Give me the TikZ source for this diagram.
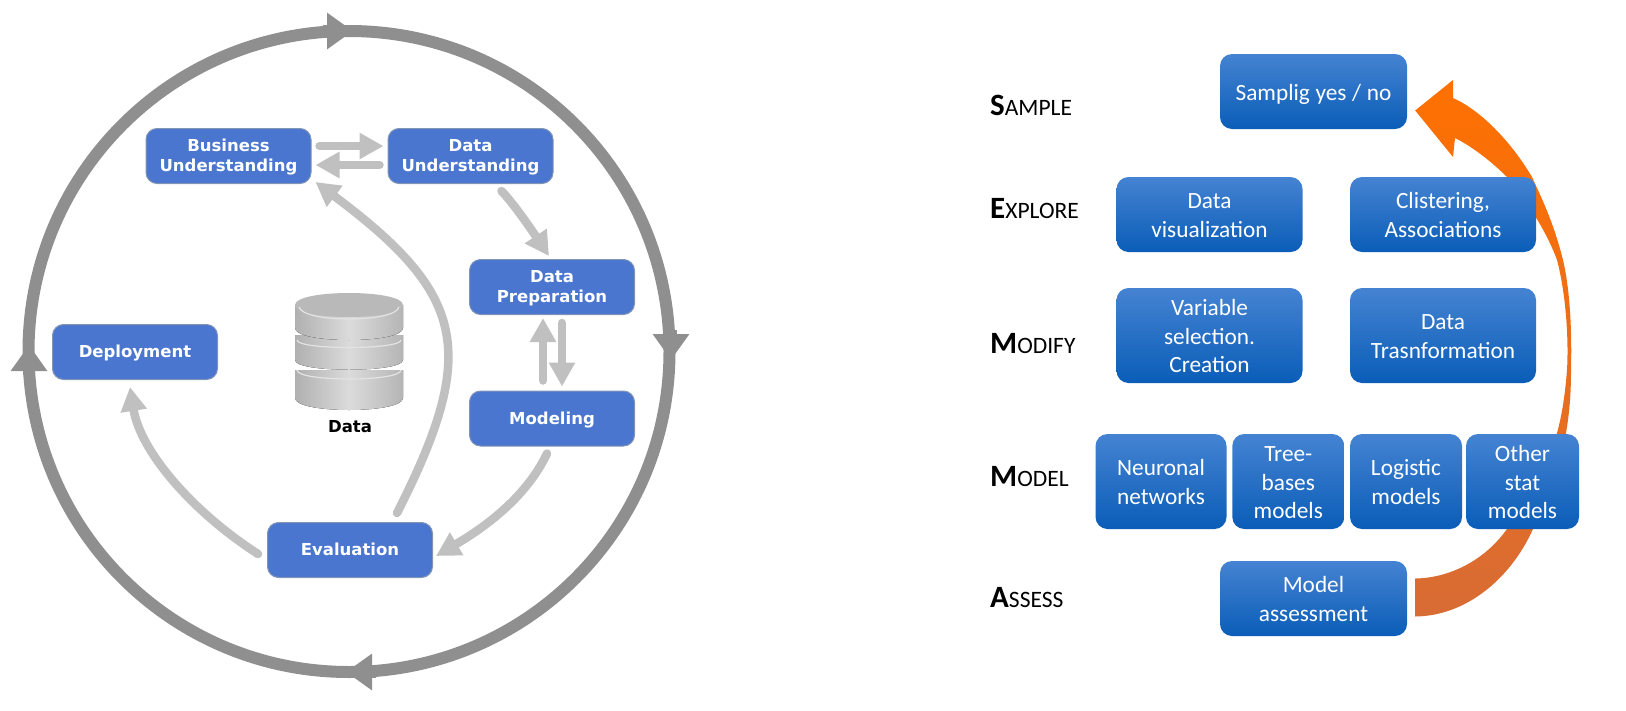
\documentclass[tikz,border=0pt]{standalone}
\usepackage{fontspec}
\usepackage{tikz}
\usetikzlibrary{arrows.meta, backgrounds}
\newfontfamily\crispfont{DejaVu Sans}
\newfontfamily\semmafont{Carlito}
\definecolor{crispblue}{HTML}{4A76CF}
\definecolor{crispedge}{HTML}{8295B5}
\definecolor{ringgray}{HTML}{8F8F8F}
\definecolor{flowgray}{HTML}{C0C0C0}
\definecolor{semmatop}{HTML}{4583D2}
\definecolor{semmabot}{HTML}{0A5DB8}
\definecolor{arrowtop}{HTML}{FF7000}
\definecolor{arrowbot}{HTML}{D86C35}
\newcommand{\phaselabel}[2]{{\fontsize{31}{31}\selectfont\bfseries #1}{\fontsize{23.5}{24}\selectfont #2}}

\begin{document}
\begin{tikzpicture}[x=1pt, y=-1pt,
    crispbox/.style={draw=crispedge, line width=1pt, fill=crispblue, rounded corners=11pt, minimum width=165pt, minimum height=55pt, text width=155pt, inner sep=0pt, align=center, text=white, font=\crispfont\bfseries\fontsize{16.5}{20}\selectfont, execute at begin node={\rule{0pt}{16pt}}, execute at end node={\rule[-5pt]{0pt}{5pt}}},
    semmabox/.style={top color=semmatop, bottom color=semmabot, rounded corners=12pt, text width=100pt, inner sep=0pt, align=center, text=white, font=\semmafont\fontsize{23.3}{28.5}\selectfont, execute at begin node={\rule{0pt}{24pt}}, execute at end node={\rule[-7pt]{0pt}{7pt}}},
    semmawide/.style={semmabox, text width=170pt},
    phase/.style={anchor=base west, inner sep=0pt, font=\semmafont},
    ringbase/.style={draw=ringgray, line width=12pt},
    ringline/.style={ringbase, -{Triangle[length=26pt,width=35pt]}},
    flowline/.style={draw=flowgray, line width=8.5pt, line cap=round, -{Triangle[length=24pt,width=25pt]}},
    drum/.style={left color=gray!62, right color=gray!58, middle color=gray!28},
    drumrim/.style={draw=gray!22, line width=1.2pt},
    ]
    \useasboundingbox (0,0) rectangle (1626,710);

    % CRISP cycle
    \node[crispbox] (N_BU) at (228.5,156) {Business\\Understanding};
    \node[crispbox] (N_DU) at (470.5,156) {Data\\Understanding};
    \node[crispbox] (N_DP) at (552,287) {Data\\Preparation};
    \node[crispbox] (N_MO) at (552,418.5) {Modeling};
    \node[crispbox] (N_EV) at (350,550) {Evaluation};
    \node[crispbox] (N_DE) at (135,352) {Deployment};
    \node[inner sep=0pt, font=\crispfont\bfseries\fontsize{16.5}{20}\selectfont] (N_DATA) at (350,427) {Data};

    % Outer ring
    \coordinate (R_C) at (349,351.5);
    \coordinate (R_T) at (353,31); \coordinate (R_R) at (671,360);
    \coordinate (R_B) at (346,672); \coordinate (R_L) at (29,345);
    \draw[ringbase] (R_C) circle[radius=320.5];
    \draw[ringline] ([xshift=-30pt]R_T) -- (R_T);
    \draw[ringline] ([yshift=30pt]R_R) -- (R_R);
    \draw[ringline] ([xshift=30pt]R_B) -- (R_B);
    \draw[ringline] ([yshift=-30pt]R_L) -- (R_L);

    % Flow between phases
    \draw[flowline] ([xshift=8pt,yshift=10pt]N_BU.east) -- ([xshift=-4pt,yshift=10pt]N_DU.west);
    \draw[flowline] ([xshift=-8pt,yshift=-9pt]N_DU.west) -- ([xshift=4pt,yshift=-9pt]N_BU.east);
    \draw[flowline] ([xshift=31pt,yshift=-7pt]N_DU.south) .. controls (515,205) and (535,235) .. ([xshift=-3pt,yshift=3pt]N_DP.north);
    \draw[flowline] ([xshift=-9pt,yshift=10pt]N_MO.north) -- ([xshift=-9pt,yshift=-3pt]N_DP.south);
    \draw[flowline] ([xshift=10pt,yshift=-8pt]N_DP.south) -- ([xshift=10pt,yshift=4pt]N_MO.north);
    \draw[flowline] ([xshift=-5pt,yshift=-7pt]N_MO.south) .. controls (525,500) and (480,530) .. ([xshift=3pt,yshift=-6pt]N_EV.east);
    \draw[flowline] ([xshift=47pt,yshift=9pt]N_EV.north) .. controls (480,350) and (465,294) .. ([xshift=4pt,yshift=2pt]N_BU.south east);
    \draw[flowline] ([xshift=-9pt,yshift=-4pt]N_EV.west) .. controls (190,510) and (140,450) .. ([xshift=-5pt,yshift=-7pt]N_DE.south);

    % Data drums
    \fill[drum] (295,370) -- (403,370) -- (403,398) .. controls (403,414) and (295,414) .. (295,398) -- cycle;
    \draw[drumrim] (297,370) .. controls (297,382) and (401,382) .. (401,370);
    \fill[drum] (295,335) -- (403,335) -- (403,360) .. controls (403,373) and (295,373) .. (295,360) -- cycle;
    \draw[drumrim] (297,340) .. controls (297,350) and (401,350) .. (401,340);
    \fill[drum] (295,305) -- (403,305) -- (403,328) .. controls (403,344) and (295,344) .. (295,328) -- cycle;
    \fill[gray!55] (295,305) .. controls (295,289) and (403,289) .. (403,305) .. controls (403,321) and (295,321) .. (295,305) -- cycle;
    \draw[drumrim] (299,307) .. controls (303,323) and (395,323) .. (399,307);

    % SEMMA boxes
    \node[semmawide, minimum width=187pt, minimum height=75pt] (N_SA) at (1313.5,91.5) {\spaceskip=0pt Samplig yes / no};
    \node[semmawide, minimum width=186pt, minimum height=75pt] (N_VI) at (1209.5,214.5) {Data\\visualization};
    \node[semmawide, minimum width=186pt, minimum height=75pt] (N_CL) at (1443,214.5) {Clistering,\\Associations};
    \node[semmawide, minimum width=186pt, minimum height=95pt] (N_VA) at (1209.5,335.5) {Variable\\selection.\\Creation};
    \node[semmawide, minimum width=186pt, minimum height=95pt] (N_TR) at (1443,335.5) {Data\\Trasnformation};
    \node[semmabox, minimum width=131pt, minimum height=95pt] (N_NN) at (1161,481.5) {Neuronal\\networks};
    \node[semmabox, minimum width=112pt, minimum height=95pt] (N_TB) at (1288.3,481.5) {Tree-\\bases\\models};
    \node[semmabox, minimum width=112pt, minimum height=95pt] (N_LM) at (1406,481.5) {Logistic\\models};
    \node[semmabox, minimum width=113pt, minimum height=95pt] (N_OS) at (1522.5,481.5) {Other\\stat\\models};
    \node[semmawide, minimum width=187pt, minimum height=75pt] (N_AS) at (1313.5,598.5) {Model\\assessment};

    % Phase names
    \node[phase] (L_S) at (990,115) {\phaselabel{S}{AMPLE}};
    \node[phase] (L_E) at (990,218) {\phaselabel{E}{XPLORE}};
    \node[phase] (L_MO) at (990,353) {\phaselabel{M}{ODIFY}};
    \node[phase] (L_ML) at (990,486) {\phaselabel{M}{ODEL}};
    \node[phase] (L_A) at (990,607) {\phaselabel{A}{SSESS}};

    % Feedback arrow behind the boxes
    \coordinate (A_OUT) at ([xshift=8pt,yshift=-18pt]N_AS.east);
    \coordinate (A_IN) at ([xshift=8pt,yshift=20pt]N_AS.east);
    \coordinate (A_TIP) at ([xshift=8pt,yshift=-19pt]N_SA.east);
    \begin{pgfonlayer}{background}
    \shade[top color=arrowtop, bottom color=arrowbot] (A_OUT) .. controls (1465,616) and (1510,580) .. (1533,529)
        .. controls (1550,495) and (1562,460) .. (1566,433) .. controls (1570,410) and (1571,390) .. (1571,370)
        .. controls (1572,330) and (1570,290) .. (1563,260) .. controls (1553,220) and (1540,195) .. (1532,177)
        .. controls (1510,140) and (1480,110) .. (1453,98) -- (1453,80) -- (A_TIP) -- (1453,157) -- (1455,138)
        .. controls (1475,148) and (1495,165) .. (1507,177) .. controls (1530,205) and (1548,235) .. (1557,260)
        .. controls (1565,290) and (1569,335) .. (1567,370) .. controls (1565,395) and (1562,415) .. (1557,433)
        .. controls (1550,465) and (1530,500) .. (1507,529) .. controls (1485,560) and (1450,578) .. (A_IN) -- cycle;
    \end{pgfonlayer}
\end{tikzpicture}
\end{document}
